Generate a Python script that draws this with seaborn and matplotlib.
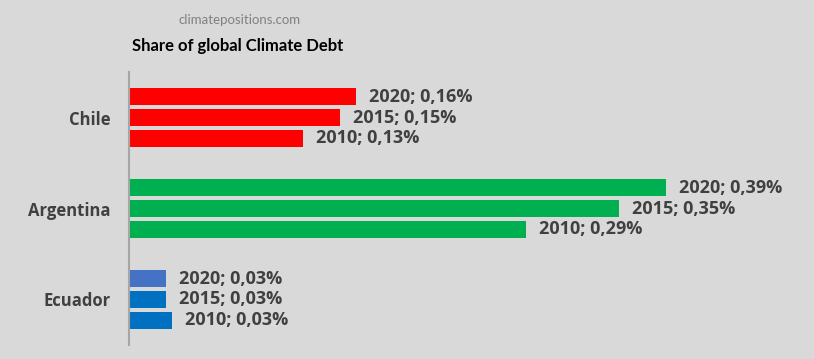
import pandas as pd
import matplotlib.pyplot as plt
import seaborn as sns

# data (share of global climate debt, %)
countries = ['Chile', 'Argentina', 'Ecuador']
years = ['2020', '2015', '2010']
chile = [0.165, 0.153, 0.126]
argentina = [0.390, 0.356, 0.288]
ecuador = [0.027, 0.027, 0.031]
labels_chile = ['0,16%', '0,15%', '0,13%']
labels_argentina = ['0,39%', '0,35%', '0,29%']
labels_ecuador = ['0,03%', '0,03%', '0,03%']

colors = {
    'Chile': ['#ff0000', '#ff0000', '#ff0000'],
    'Argentina': ['#00b050', '#00b050', '#00b050'],
    'Ecuador': ['#4472c4', '#0070c0', '#0070c0'],
}

rows = []
for c, vals, labs in [('Chile', chile, labels_chile),
                      ('Argentina', argentina, labels_argentina),
                      ('Ecuador', ecuador, labels_ecuador)]:
    for y, v, l in zip(years, vals, labs):
        rows.append({'country': c, 'year': y, 'value': v, 'label': f'{y}; {l}'})
df = pd.DataFrame(rows)

sns.set_style('white')
plt.rcParams['font.family'] = ['Open Sans', 'DejaVu Sans']

fig = plt.figure(figsize=(8.14, 3.59), dpi=100)
fig.patch.set_facecolor('#d9d9d9')
ax = fig.add_axes([129 / 814, 1 - 345 / 359, 671 / 814, 273 / 359])
ax.set_facecolor('#d9d9d9')

sns.barplot(data=df, y='country', x='value', hue='year', hue_order=years,
            order=countries, orient='h', width=0.69, gap=0.19,
            legend=False, ax=ax, saturation=1)

# colour each bar and put the label at its end
for j, cont in enumerate(ax.containers):
    for i, bar in enumerate(cont):
        c = countries[i]
        bar.set_facecolor(colors[c][j])
        bar.set_edgecolor('none')
        row = df[(df.country == c) & (df.year == years[j])].iloc[0]
        ax.annotate(row['label'], (bar.get_width(), bar.get_y() + bar.get_height() / 2),
                    xytext=(13, 0), textcoords='offset pixels',
                    va='center', ha='left', fontsize=13, fontweight='bold',
                    color='#404040')

ax.set_xlim(0, 671 / 1377)
ax.set_ylim(2.5, -0.5)
ax.set_xlabel('')
ax.set_ylabel('')
ax.set_xticks([])
ax.tick_params(axis='y', length=0, pad=13)
for lab in ax.get_yticklabels():
    lab.set_fontweight('bold')
    lab.set_fontsize(12)
    lab.set_color('#404040')
for s in ['top', 'right', 'bottom']:
    ax.spines[s].set_visible(False)
ax.spines['left'].set_color('#a6a6a6')
ax.spines['left'].set_linewidth(1.5)

fig.text(240 / 814, 1 - 20 / 359, 'climatepositions.com', ha='center', va='center',
         fontsize=9.5, color='#808080', family=['Lato', 'Open Sans'])
fig.text(238 / 814, 1 - 46 / 359, 'Share of global Climate Debt', ha='center', va='center',
         fontsize=12, fontweight='bold', color='#000000', family=['Lato', 'Open Sans'])

fig.savefig('out.png', dpi=100, facecolor=fig.get_facecolor())
